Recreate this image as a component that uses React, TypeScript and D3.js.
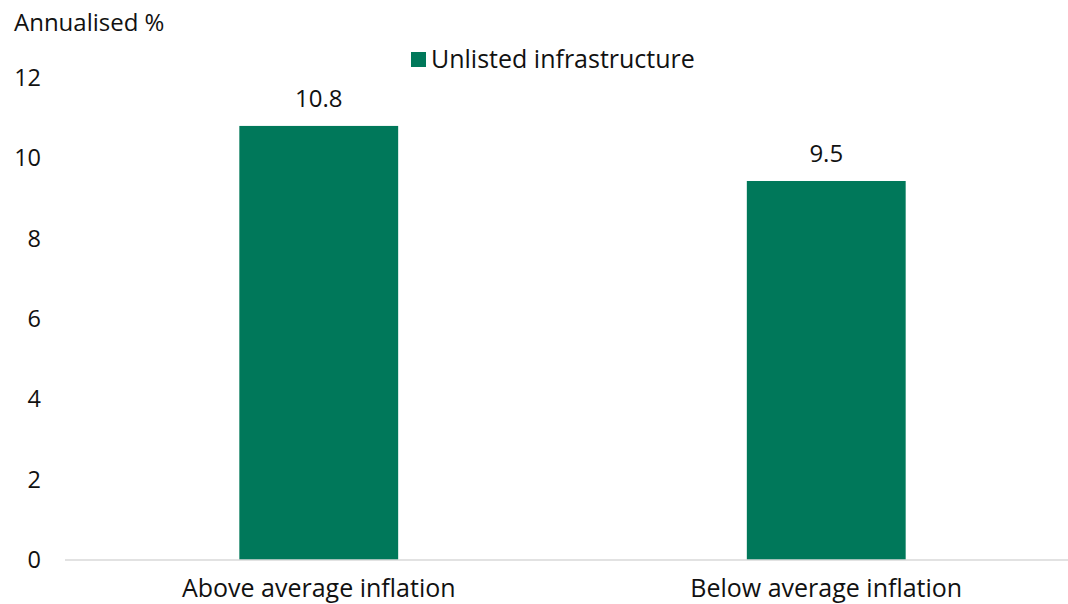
import React from "react";
import * as d3 from "d3";

const categories = ["Above average inflation", "Below average inflation"];
const values = [10.8, 9.43];
const valueLabels = ["10.8", "9.5"];
const yTicks = [0, 2, 4, 6, 8, 10, 12];
const seriesName = "Unlisted infrastructure";
const yTitle = "Annualised %";

const W = 1068;
const H = 604;
const FONT = "'Open Sans', sans-serif";
const GREEN = "#00785A";
const TEXT = "#111";

export default function App() {
  const y = d3.scaleLinear().domain([0, 12]).range([560, 77.7]);
  const x = d3
    .scaleBand<string>()
    .domain(categories)
    .range([65, 1080])
    .paddingInner(0.687)
    .paddingOuter(0.3435);

  return (
    <svg
      width={W}
      height={H}
      style={{ position: "absolute", left: 0, top: 0, background: "#fff" }}
      fontFamily={FONT}
    >
      <text x={14} y={31} fontSize={24} fill={TEXT}>
        {yTitle}
      </text>
      <rect x={411} y={52} width={15} height={15} fill={GREEN} />
      <text x={431} y={68} fontSize={25} fill={TEXT}>
        {seriesName}
      </text>
      {yTicks.map((t) => (
        <text
          key={t}
          x={41}
          y={y(t)}
          dy="0.35em"
          textAnchor="end"
          fontSize={23.5}
          fill={TEXT}
        >
          {t}
        </text>
      ))}
      {categories.map((c, i) => (
        <g key={c}>
          <rect
            x={x(c)}
            y={y(values[i])}
            width={x.bandwidth()}
            height={y(0) - y(values[i])}
            fill={GREEN}
          />
          <text
            x={(x(c) ?? 0) + x.bandwidth() / 2}
            y={y(values[i]) - 19}
            textAnchor="middle"
            fontSize={24}
            fill={TEXT}
          >
            {valueLabels[i]}
          </text>
          <text
            x={(x(c) ?? 0) + x.bandwidth() / 2}
            y={597}
            textAnchor="middle"
            fontSize={25}
            fill={TEXT}
          >
            {c}
          </text>
        </g>
      ))}
      <line x1={65} x2={1068} y1={y(0)} y2={y(0)} stroke="#d9d9d9" strokeWidth={1.5} />
    </svg>
  );
}
